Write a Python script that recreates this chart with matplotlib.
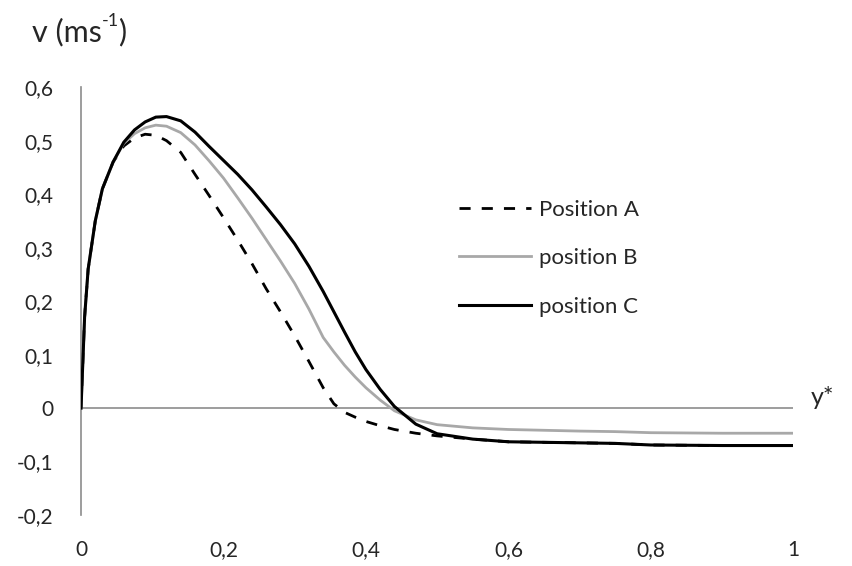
import matplotlib
matplotlib.use("Agg")
import matplotlib.pyplot as plt

plt.rcParams['font.family'] = ['Lato', 'DejaVu Sans']

# velocity profiles along y*
y_star = [0, 0.005, 0.01, 0.02, 0.03, 0.045, 0.06, 0.075, 0.09, 0.105, 0.12,
          0.14, 0.16, 0.18, 0.2, 0.22, 0.24, 0.26, 0.28, 0.3, 0.32, 0.34,
          0.355, 0.37, 0.385, 0.4, 0.42, 0.44, 0.47, 0.5, 0.55, 0.6, 0.7,
          0.75, 0.8, 0.9, 1.0]

v_pos_a = [0, 0.17, 0.26, 0.35, 0.41, 0.46, 0.49, 0.505, 0.512, 0.51, 0.50,
           0.478, 0.437, 0.397, 0.356, 0.314, 0.27, 0.223, 0.18, 0.135, 0.087,
           0.038, 0.008, -0.008, -0.017, -0.025, -0.033, -0.04, -0.047, -0.052,
           -0.058, -0.063, -0.065, -0.066, -0.069, -0.07, -0.07]

v_pos_b = [0, 0.17, 0.26, 0.35, 0.41, 0.46, 0.495, 0.513, 0.524, 0.529, 0.527,
           0.515, 0.492, 0.462, 0.43, 0.393, 0.355, 0.315, 0.275, 0.233, 0.185,
           0.132, 0.105, 0.08, 0.058, 0.038, 0.015, -0.005, -0.022, -0.031,
           -0.037, -0.04, -0.043, -0.044, -0.046, -0.047, -0.047]

v_pos_c = [0, 0.17, 0.26, 0.35, 0.41, 0.46, 0.497, 0.52, 0.535, 0.544, 0.545,
           0.537, 0.516, 0.489, 0.463, 0.437, 0.408, 0.376, 0.343, 0.307, 0.265,
           0.218, 0.18, 0.142, 0.105, 0.072, 0.035, 0.003, -0.03, -0.048,
           -0.058, -0.063, -0.065, -0.066, -0.069, -0.07, -0.07]

x_ticks = [0, 0.2, 0.4, 0.6, 0.8, 1]
x_labels = ['0', '0,2', '0,4', '0,6', '0,8', '1']
y_ticks = [-0.2, -0.1, 0, 0.1, 0.2, 0.3, 0.4, 0.5, 0.6]
y_labels = ['-0,2', '-0,1', '0', '0,1', '0,2', '0,3', '0,4', '0,5', '0,6']

txt = '#262626'

fig = plt.figure(figsize=(8.53, 5.66), dpi=100)
ax = fig.add_axes([0.095, 0.090, 0.835, 0.756])

ax.axhline(0, color='#8c8c8c', lw=1.2, zorder=1)
ax.plot(y_star, v_pos_a, color='black', lw=2.0, ls=(0, (4, 4)), label='Position A', zorder=2)
ax.plot(y_star, v_pos_b, color='#a8a8a8', lw=2.0, label='position B', zorder=3)
ax.plot(y_star, v_pos_c, color='black', lw=2.2, label='position C', zorder=4)

ax.set_xlim(0, 1)
ax.set_ylim(-0.2, 0.6)
ax.set_xticks(x_ticks)
ax.set_xticklabels(x_labels)
ax.set_yticks(y_ticks)
ax.set_yticklabels(y_labels)
ax.tick_params(axis='both', length=0, labelsize=15, colors=txt)
ax.tick_params(axis='x', pad=18)
ax.tick_params(axis='y', pad=20)

for side in ['top', 'right', 'bottom']:
    ax.spines[side].set_visible(False)
ax.spines['left'].set_color('#8c8c8c')
ax.spines['left'].set_linewidth(1.2)

# axis titles: unit with a small superscript
t1 = fig.text(0.037, 0.927, 'v (ms', fontsize=22, color=txt, va='baseline')
t2 = ax.annotate('-1', xy=(1.0, 0.62), xycoords=t1, fontsize=13, color=txt,
                 va='bottom', ha='left', annotation_clip=False)
ax.annotate(')', xy=(1.0, 0.0), xycoords=(t2, t1), fontsize=22, color=txt,
            va='bottom', ha='left', annotation_clip=False)
fig.text(0.951, 0.298, 'y*', fontsize=18, color=txt, va='center')

ax.legend(loc='upper left', bbox_to_anchor=(0.525, 0.667), bbox_transform=fig.transFigure,
          frameon=False, fontsize=16, handlelength=3.25, handletextpad=0.35,
          labelspacing=1.29, borderpad=0, labelcolor=txt)

fig.savefig('out.png', dpi=100)
